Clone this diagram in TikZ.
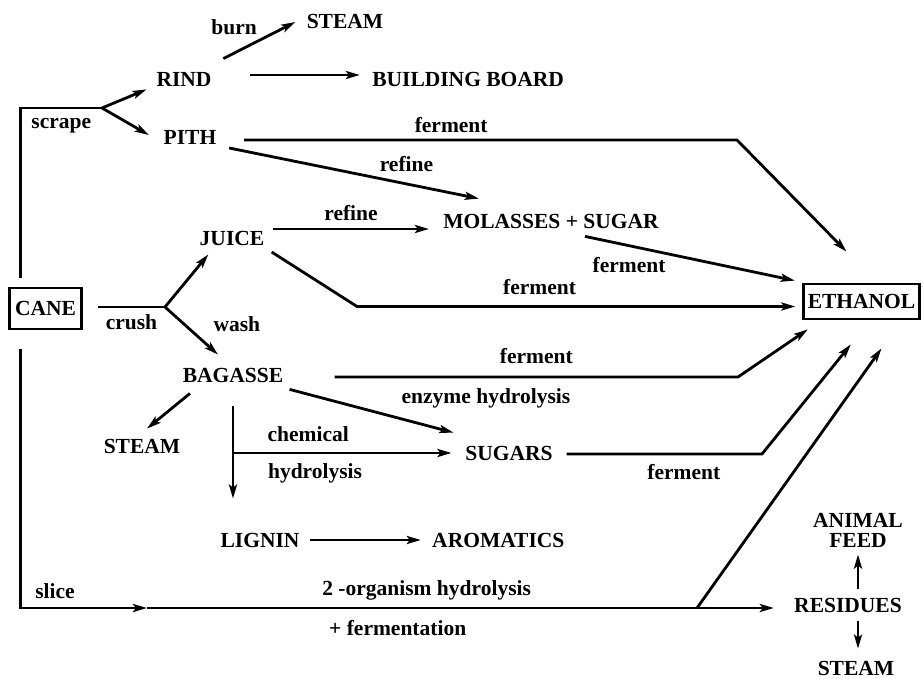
\documentclass[tikz,border=0pt]{standalone}
\usepackage{fontspec}
\setmainfont{Liberation Serif}
\usetikzlibrary{arrows.meta, positioning}

\begin{document}
\begin{tikzpicture}[
  x=1pt, y=-1pt,
  line width=2.8pt,
  font=\fontsize{21.5}{24}\selectfont\bfseries,
  item/.style={inner sep=3pt, text height=14pt, text depth=0pt},
  lbl/.style={inner sep=2pt, text height=14pt, text depth=4pt},
  box/.style={item, draw, inner xsep=4pt},
  arr/.style={-{Stealth[length=14pt, width=8pt, inset=3pt]}},
]
\useasboundingbox (0,0) rectangle (923,679);

\node[box, minimum width=72pt, minimum height=41pt] (cane) at (45.5,308.5) {CANE};
\node[box, minimum width=115pt, minimum height=35pt] (eth) at (861.5,301.5) {ETHANOL};

\node[item] (steamA) at (345,22) {STEAM};
\node[item] (rind) at (184,80) {RIND};
\node[item, right=152pt of rind] (board) {BUILDING BOARD};
\node[item] (pith) at (190,138) {PITH};
\node[item] (juice) at (232,238) {JUICE};
\node[item] (molasses) at (551,222) {MOLASSES + SUGAR};
\node[item] (bagasse) at (233,375) {BAGASSE};
\node[item] (steamB) at (142,446) {STEAM};
\node[item] (sugars) at (509,453) {SUGARS};
\node[item] (lignin) at (260,540) {LIGNIN};
\node[item, right=124pt of lignin] (aromatics) {AROMATICS};
\node[item] (residues) at (848,605) {RESIDUES};
\node[align=center, inner sep=3pt, font=\fontsize{21.5}{20}\selectfont\bfseries] (feed) at (858,530) {ANIMAL\\FEED};
\node[item] (steamC) at (856,668) {STEAM};
\node[lbl] (enzyme) at (486,398) {enzyme hydrolysis};

\coordinate (sc) at (102,108);
\coordinate (cr) at (165,307);
\coordinate (pf) at (737,140);
\coordinate (jf) at (357,306.5);
\coordinate (bf) at (738,377);
\coordinate (sf) at (762,454);
\coordinate (sl) at (147,608);
\coordinate (so) at (697,608);
\coordinate (ch) at (bagasse.south |- sugars.west);

\draw ([xshift=12.5pt, yshift=8.5pt]cane.north west) |- node[lbl, pos=0.75, below=3pt] {scrape} (sc);
\draw[arr] (sc) -- ([shift={(-5.5pt,2pt)}]rind.south west);
\draw[arr] (sc) -- ([shift={(-10.5pt,3pt)}]pith.west);
\draw[arr] ([shift={(7.5pt,10pt)}]rind.north east) -- node[lbl, pos=0.15, above=11pt] {burn} ([xshift=-7pt]steamA.west);
\draw[arr] ([shift={(34pt,5pt)}]rind.east) -- ([shift={(-8pt,5pt)}]board.west);

\draw[arr] ([shift={(23.5pt,-2pt)}]pith.east) -- node[lbl, pos=0.42, above=0pt] {ferment} (pf) -- ([shift={(-15pt,31pt)}]eth.north);
\draw[arr] ([shift={(8.5pt,-10pt)}]pith.east) -- node[lbl, pos=0.71, above=5pt] {refine} ([shift={(40pt,12pt)}]molasses.north west);

\draw[arr] ([shift={(4.5pt,9pt)}]juice.east) -- node[lbl, above=1pt] {refine} ([shift={(-10pt,-7pt)}]molasses.west);
\draw[arr, shorten >=7pt] ([shift={(3pt,-14pt)}]juice.east) -- (jf) -- node[lbl, pos=0.41, above=5pt] {ferment} (jf -| eth.west);
\draw[arr] ([shift={(34pt,-3pt)}]molasses.south) -- node[lbl, pos=0.21, below=9pt] {ferment} ([shift={(-7.5pt,2pt)}]eth.north west);

\draw ([shift={(15pt,1.5pt)}]cane.east) -- node[lbl, below=5pt] {crush} (cr);
\draw[arr] (cr) -- ([shift={(13pt,-5pt)}]juice.south west);
\draw[arr] (cr) -- node[lbl, pos=0.4, right=24pt] {wash} ([shift={(-15pt,9pt)}]bagasse.north);

\draw[arr] ([shift={(47pt,-2pt)}]bagasse.east) -- node[lbl, above=6pt] {ferment} (bf) -- ([shift={(5.5pt,-9pt)}]eth.south west);
\draw[arr] ([shift={(2pt,-3pt)}]bagasse.south east) -- ([shift={(-7.5pt,9pt)}]sugars.north west);
\draw[arr] ([shift={(-43pt,-7pt)}]bagasse.south) -- ([shift={(5pt,6pt)}]steamB.north);
\draw[arr, shorten <=20pt, shorten >=30pt] (bagasse.south) -- (bagasse.south |- lignin.north);
\draw[arr, shorten >=9.5pt] (ch) -- node[lbl, pos=0.33, above=4pt] {chemical} node[lbl, pos=0.36, below=8pt] {hydrolysis} (sugars.west);

\draw[arr] ([shift={(9.5pt,-1pt)}]sugars.east) -- node[lbl, pos=0.6, below=8pt] {ferment} (sf) -- ([shift={(48.5pt,-24pt)}]eth.south west);
\draw[arr] ([xshift=6pt]lignin.east) -- ([xshift=-7pt]aromatics.west);

\draw[arr] ([shift={(12.5pt,-18.5pt)}]cane.south west) |- node[lbl, pos=0.636, above=2pt] {slice} (sl);
\draw[arr, shorten >=16pt] (sl) -- node[lbl, pos=0.435, above=5pt] {2 -organism hydrolysis} node[lbl, pos=0.39, below=10pt] {+ fermentation} (sl -| residues.west);
\draw[arr] (so) -- ([shift={(20pt,-28pt)}]eth.south);

\draw[arr, shorten <=5pt, shorten >=3pt] (residues.north -| feed.south) -- (feed.south);
\draw[arr, shorten <=5pt, shorten >=8pt] (residues.south -| feed.south) -- (steamC.north -| feed.south);

\end{tikzpicture}
\end{document}
